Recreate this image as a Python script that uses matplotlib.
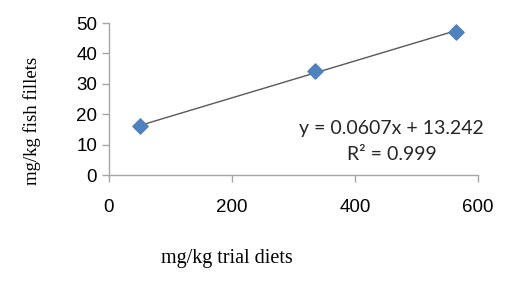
import matplotlib
matplotlib.use("Agg")
import matplotlib.pyplot as plt
import numpy as np

diet = [50, 335, 565]
fillet = [16.0, 34.2, 47.2]
slope = 0.0607
intercept = 13.242
r2 = 0.999
xticks = [0, 200, 400, 600]
yticks = [0, 10, 20, 30, 40, 50]

fig = plt.figure(figsize=(5.16, 2.85), dpi=100)
ax = fig.add_axes([109/516, 1-175/285, (478-109)/516, (175-23)/285])

xs = np.array([diet[0], diet[-1]])
ax.plot(xs, slope*xs + intercept, color="#595959", lw=1.0, zorder=2)
ax.scatter(diet, fillet, marker="D", s=60, color="#4F81BD", edgecolors="#4F81BD", zorder=3)

ax.set_xlim(0, 600)
ax.set_ylim(0, 50)
ax.set_xticks(xticks)
ax.set_yticks(yticks)
for s in ["top", "right"]:
    ax.spines[s].set_visible(False)
for s in ["left", "bottom"]:
    ax.spines[s].set_color("#A6A6A6")
    ax.spines[s].set_linewidth(1.0)
ax.tick_params(axis="both", colors="#A6A6A6", length=5, width=1.0, labelcolor="black",
               labelsize=13.5)
ax.tick_params(axis="x", pad=12)
for lab in ax.get_xticklabels() + ax.get_yticklabels():
    lab.set_fontfamily("Liberation Sans")

fig.text(227/516, 1-258/285, "mg/kg trial diets", family="Liberation Serif", fontsize=14.5,
         ha="center", va="center")
fig.text(32/516, 1-121/285, "mg/kg fish fillets", family="Liberation Serif", fontsize=13.5,
         ha="center", va="center", rotation=90)

fig.text(391/516, 1-128/285, f"y = {slope}x + {intercept}", family="Lato", fontsize=14,
         ha="center", va="center", color="#262626")
fig.text(392/516, 1-155/285, f"R² = {r2}", family="Lato", fontsize=14,
         ha="center", va="center", color="#262626")

fig.savefig("out.png", dpi=100)
